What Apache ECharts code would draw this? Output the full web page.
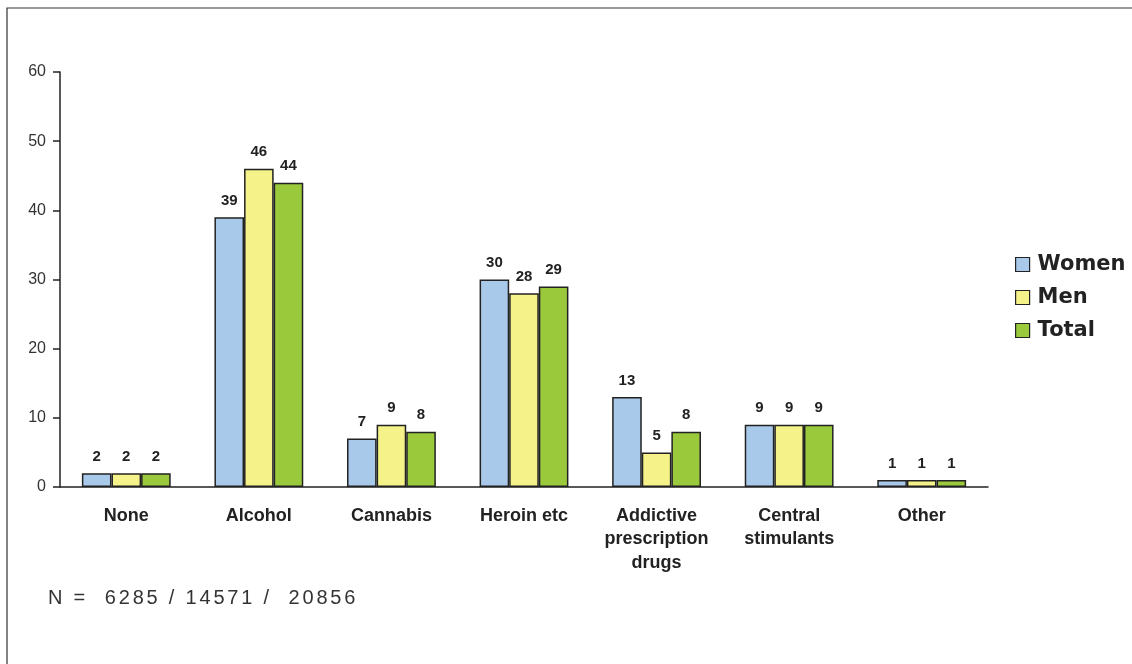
<!DOCTYPE html>
<html>
<head>
<meta charset="utf-8">
<script src="https://cdn.jsdelivr.net/npm/echarts@6/dist/echarts.min.js"></script>
<style>
  html, body { margin: 0; padding: 0; background: #fff; }
  #chart { width: 1132px; height: 664px; }
</style>
</head>
<body>
<div id="chart"></div>
<script>
// Substance categories and shares (%) by group
const categories = ['None', 'Alcohol', 'Cannabis', 'Heroin etc', 'Addictive\nprescription\ndrugs', 'Central\nstimulants', 'Other'];
const women = [2, 39, 7, 30, 13, 9, 1];
const men = [2, 46, 9, 28, 5, 9, 1];
const total = [2, 44, 8, 29, 8, 9, 1];
const seriesNames = ['Women', 'Men', 'Total'];
const seriesColors = ['#a9c9ea', '#f6f28a', '#9bc93c'];
const footnote = 'N =  6285 / 14571 /  20856';

const chart = echarts.init(document.getElementById('chart'), null, { renderer: 'canvas' });

function barSeries(name, data, color) {
  return {
    name: name,
    type: 'bar',
    data: data,
    barGap: '0%',
    barCategoryGap: '33%',
    itemStyle: { color: color, borderColor: '#222', borderWidth: 1.5 },
    label: {
      show: true,
      position: 'top',
      distance: 9,
      color: '#222',
      fontFamily: '"Liberation Sans", Arial, sans-serif',
      fontWeight: 'bold',
      fontSize: 15
    }
  };
}

// Footnote drawn character by character with extra tracking
const footFont = '20px "Liberation Sans", Arial, sans-serif';
const tracking = 2.8;
const measureCtx = document.createElement('canvas').getContext('2d');
measureCtx.font = footFont;
const footChars = [];
let cursor = 0;
for (const ch of footnote) {
  if (ch !== ' ') {
    footChars.push({
      type: 'text',
      x: cursor,
      y: 0,
      style: { text: ch, fill: '#333', font: footFont }
    });
  }
  cursor += measureCtx.measureText(ch).width + tracking;
}

chart.setOption({
  animation: false,
  backgroundColor: '#fff',
  grid: { left: 60, right: 144, top: 72, bottom: 177, containLabel: false },
  legend: {
    orient: 'vertical',
    left: 1010,
    top: 249,
    itemWidth: 14,
    itemHeight: 14,
    itemGap: 12,
    icon: 'rect',
    textStyle: {
      fontFamily: '"DejaVu Sans", sans-serif',
      fontWeight: 'bold',
      fontSize: 21,
      color: '#222',
      padding: [0, 0, 0, 3]
    },
    itemStyle: { borderColor: '#222', borderWidth: 1.2 },
    data: seriesNames
  },
  xAxis: {
    type: 'category',
    data: categories,
    axisLine: { lineStyle: { color: '#222', width: 1.5 } },
    axisTick: { show: false },
    axisLabel: {
      interval: 0,
      margin: 17,
      color: '#222',
      fontFamily: '"Liberation Sans", Arial, sans-serif',
      fontWeight: 'bold',
      fontSize: 18,
      lineHeight: 23.5
    }
  },
  yAxis: {
    type: 'value',
    min: 0,
    max: 60,
    interval: 10,
    axisLine: { show: true, lineStyle: { color: '#222', width: 1.5 } },
    axisTick: { show: true, length: 7, lineStyle: { color: '#222', width: 1.5 } },
    splitLine: { show: false },
    axisLabel: {
      margin: 14,
      color: '#333',
      fontFamily: '"Liberation Sans", Arial, sans-serif',
      fontSize: 16
    }
  },
  graphic: [
    {
      type: 'polyline',
      shape: { points: [[7, 664], [7, 8], [1132, 8]] },
      style: { stroke: '#333', lineWidth: 1.2, fill: null }
    },
    {
      type: 'group',
      left: 48,
      top: 588,
      children: footChars
    }
  ],
  series: [
    barSeries(seriesNames[0], women, seriesColors[0]),
    barSeries(seriesNames[1], men, seriesColors[1]),
    barSeries(seriesNames[2], total, seriesColors[2])
  ]
});
</script>
</body>
</html>
